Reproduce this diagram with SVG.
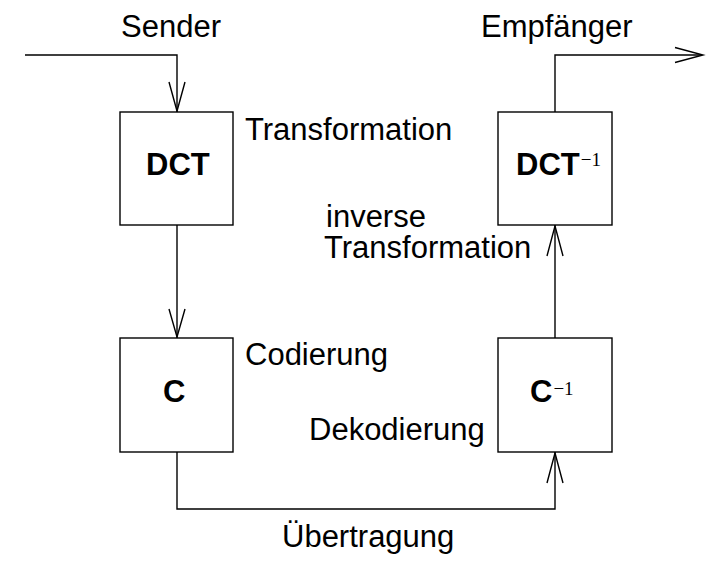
<svg xmlns="http://www.w3.org/2000/svg" width="710" height="561" viewBox="0 0 710 561">
<style>
.box{fill:#fff;stroke:#000;stroke-width:1.4}
.ln{fill:none;stroke:#000;stroke-width:1.4}
.lbl{font-family:"Liberation Sans",Arial,sans-serif;font-size:31px;fill:#000}
.b{font-family:"Liberation Sans",Arial,sans-serif;font-size:31px;font-weight:bold;fill:#000}
.sup{font-family:"Liberation Serif","Times New Roman",serif;font-size:19px;font-weight:normal}
</style>
<rect width="710" height="561" fill="#fff"/>
<g id="connectors">
<path class="ln" d="M25,55 H177 V112"/>
<path class="ln" d="M169,82 L177,111 L185,82"/>
<path class="ln" d="M177,225 V338"/>
<path class="ln" d="M169,309 L177,337 L185,309"/>
<path class="ln" d="M177,452 V509 H555 V452"/>
<path class="ln" d="M547,483 L555,453 L563,483"/>
<path class="ln" d="M555,338 V225"/>
<path class="ln" d="M547,256 L555,226 L563,256"/>
<path class="ln" d="M555,112 V55 H702"/>
<path class="ln" d="M675,47.5 L703,55 L675,62.5"/>
</g>
<g id="dct">
<rect class="box" x="120" y="112" width="113" height="113"/>
<text class="b" x="146" y="175">DCT</text>
</g>
<g id="c">
<rect class="box" x="120" y="338" width="113" height="114"/>
<text class="b" x="163" y="402">C</text>
</g>
<g id="idct">
<rect class="box" x="498" y="112" width="114" height="113"/>
<text class="b" x="516" y="175">DCT<tspan class="sup" dx="1" dy="-9.5">−1</tspan></text>
</g>
<g id="ic">
<rect class="box" x="498" y="338" width="114" height="114"/>
<text class="b" x="530" y="402">C<tspan class="sup" dx="1" dy="-7.5">−1</tspan></text>
</g>
<g id="labels">
<text class="lbl" x="121" y="37">Sender</text>
<text class="lbl" x="481" y="37">Empfänger</text>
<text class="lbl" x="245" y="140">Transformation</text>
<text class="lbl" x="326" y="227">inverse</text>
<text class="lbl" x="324" y="258">Transformation</text>
<text class="lbl" x="245" y="365">Codierung</text>
<text class="lbl" x="309" y="440">Dekodierung</text>
<text class="lbl" x="282" y="547">Übertragung</text>
</g>
</svg>
